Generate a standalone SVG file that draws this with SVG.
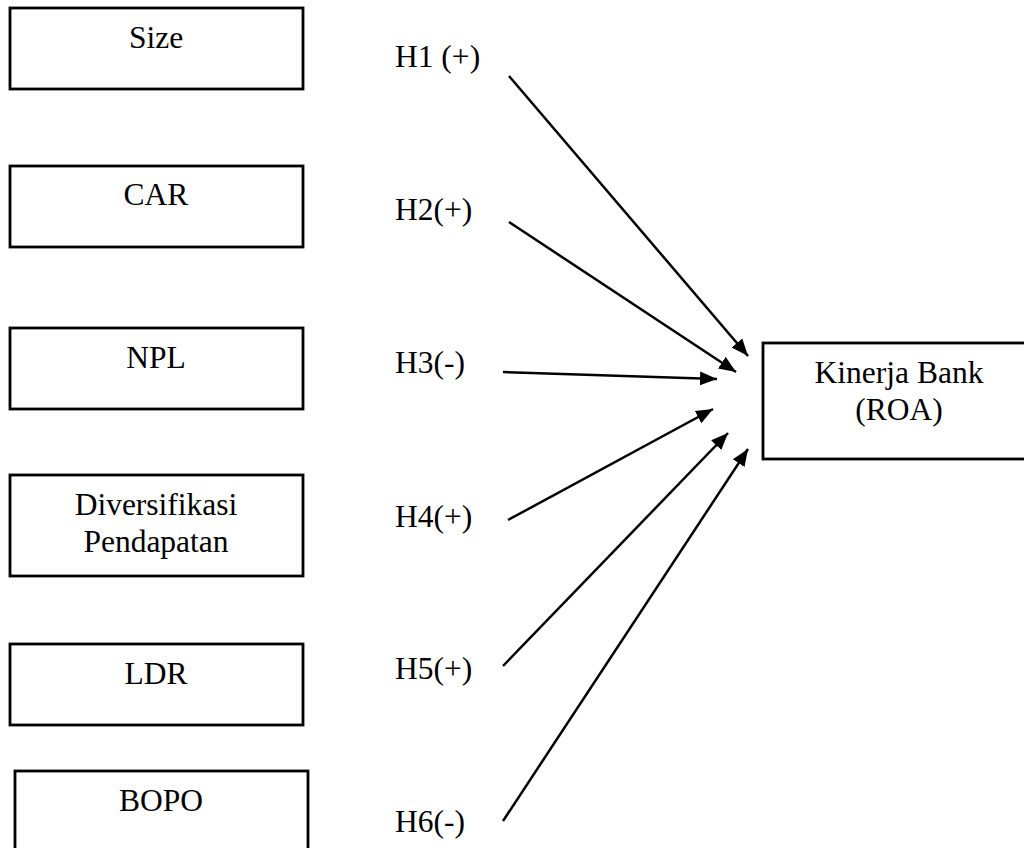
<svg xmlns="http://www.w3.org/2000/svg" width="1024" height="848" viewBox="0 0 1024 848">
<style>
.box{fill:#fff;stroke:#000;stroke-width:2.8}
.t{font-family:"Liberation Serif","Times New Roman",serif;font-size:31.5px;fill:#000}
.c{text-anchor:middle}
.e{stroke:#000;stroke-width:2.5;fill:none;marker-end:url(#ah)}
</style>
<defs>
<marker id="ah" markerUnits="userSpaceOnUse" markerWidth="20" markerHeight="16" refX="17" refY="8" orient="auto">
<path d="M0,1 L17,8 L0,15 Z" fill="#000"/>
</marker>
</defs>
<rect width="1024" height="848" fill="#fff"/>
<g id="size"><rect class="box" x="10" y="8" width="293" height="81"/><text class="t c" x="156" y="48">Size</text></g>
<g id="car"><rect class="box" x="10" y="166" width="293" height="81"/><text class="t c" x="156" y="205">CAR</text></g>
<g id="npl"><rect class="box" x="10" y="328" width="293" height="81"/><text class="t c" x="156" y="368">NPL</text></g>
<g id="div"><rect class="box" x="10" y="475" width="293" height="101"/><text class="t c" x="156" y="515">Diversifikasi</text><text class="t c" x="156" y="552">Pendapatan</text></g>
<g id="ldr"><rect class="box" x="10" y="644" width="293" height="81"/><text class="t c" x="156" y="684">LDR</text></g>
<g id="bopo"><rect class="box" x="15" y="771" width="293" height="90"/><text class="t c" x="161" y="811">BOPO</text></g>
<g id="roa"><rect class="box" x="763" y="343" width="264" height="116"/><text class="t c" x="899" y="383">Kinerja Bank</text><text class="t c" x="899" y="420">(ROA)</text></g>
<g id="labels">
<text class="t" x="395" y="67">H1 (+)</text>
<text class="t" x="395" y="220">H2(+)</text>
<text class="t" x="395" y="373">H3(-)</text>
<text class="t" x="395" y="527">H4(+)</text>
<text class="t" x="395" y="679">H5(+)</text>
<text class="t" x="395" y="832">H6(-)</text>
</g>
<g id="connectors">
<line class="e" x1="509" y1="76" x2="748" y2="356"/>
<line class="e" x1="509" y1="222" x2="736" y2="372"/>
<line class="e" x1="503" y1="372" x2="717" y2="379"/>
<line class="e" x1="508" y1="520" x2="713" y2="409"/>
<line class="e" x1="503" y1="666" x2="728" y2="433"/>
<line class="e" x1="503" y1="821" x2="748" y2="449"/>
</g>
</svg>
